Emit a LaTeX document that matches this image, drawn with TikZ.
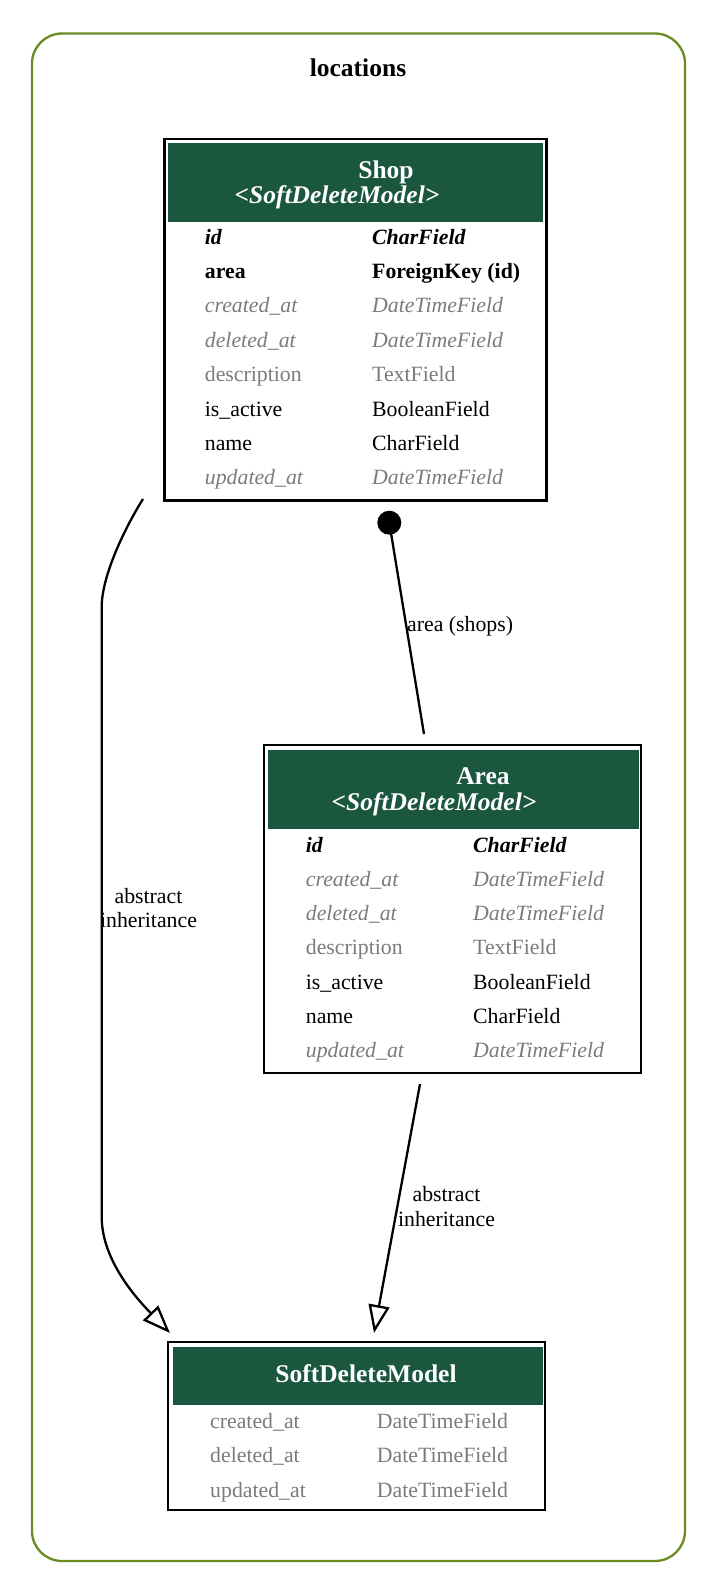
\documentclass[tikz,border=0pt]{standalone}
\usepackage{fontspec}
\setmainfont{Liberation Serif}
\usepackage{xcolor}
\usepackage{tikz}
\usetikzlibrary{arrows.meta}
\usetikzlibrary{positioning}
\definecolor{hdrgreen}{HTML}{1B563F}
\definecolor{inhgray}{HTML}{7B7B7B}
\definecolor{clustergreen}{HTML}{698B22}
\newcommand{\rowfont}{\fontsize{21.8}{24}\selectfont}
\newcommand{\hdrfont}{\fontsize{25.5}{30}\selectfont\bfseries}

\begin{document}
\begin{tikzpicture}[
  x=1pt, y=-1pt,
  dep/.style ={
    line width=2.3pt
  },
  inh/.style={
    dep,-{Triangle[open,length=28pt,width=21pt]}
  },
  tbl/.style 2 args={
    rectangle,
    draw=black,
    line width=2.4pt,
    minimum width=#1,
    minimum height=#2,
    inner sep=0pt},
  hdr/.style 2 args={
    rectangle,
    fill=hdrgreen,
    minimum width=#1,
    minimum height=#2,
    inner sep=0pt,
    anchor=north west},
  ttl/.style={
    text=white,
    font=\hdrfont,
    anchor=base,
    inner sep=0pt},
  row/.style={anchor=base west, inner sep=0pt, font=\rowfont},
  rowpk/.style={row, font=\rowfont\bfseries\itshape},
  rowfk/.style={row, font=\rowfont\bfseries},
  rowinh/.style={row, text=inhgray, font=\rowfont\itshape},
  rowgray/.style={row, text=inhgray},
  rowplain/.style={row},
  lbl/.style={font=\rowfont, align=center, inner sep=0pt},
  dot/.style={
    circle,
    fill=black,
    minimum size=24pt,
    inner sep=0pt},
]

  \def\rowh{34.4}%
  \def\colgap{167.3}%

  \useasboundingbox (0,0) rectangle (716,1576);

        \node[draw=clustergreen, line width=2.3pt, rounded corners=30pt,
            minimum width=653pt, minimum height=1527.5pt, inner sep=0pt] (locations)
            at (358.5, 797.25) {};
        \node[font=\hdrfont, anchor=base, inner sep=0pt] (locations_title)
            at (358, 77) {locations};


        \node[tbl={382pt}{361.5pt}] (shop) 
            at (355.5, 319.75) {};
        \node[hdr={375pt}{79pt}] (shop_hdr) 
            at (168, 143) {};
        \node[ttl] (shop_name) at (386, 178) {Shop};
        \node[ttl, font=\hdrfont\itshape] (shop_base) 
            at (337, 203) {<SoftDeleteModel>};

    \foreach \fname/\ftype/\fsty [count=\i from 0] in {
        id/CharField/rowpk,
        area/ForeignKey (id)/rowfk,
        created\_at/DateTimeField/rowinh,
        deleted\_at/DateTimeField/rowinh,
        description/TextField/rowgray,
        is\_active/BooleanField/rowplain,
        name/CharField/rowplain,
        updated\_at/DateTimeField/rowinh} {
        \node[\fsty] (shop_f\i) at (204.7, 244 + \i*\rowh) {\fname};
        \node[\fsty] (shop_t\i) at (204.7 + \colgap, 244 + \i*\rowh) {\ftype};
    }


        \node[tbl={377pt}{328pt}] (area) 
            at (452.5, 909) {};
        \node[hdr={371pt}{79pt}] (area_hdr) 
            at (268, 750) {};
        \node[ttl] (area_name) at (483, 784) {Area};
        \node[ttl, font=\hdrfont\itshape] (area_base) 
            at (434, 810) {<SoftDeleteModel>};

    \foreach \fname/\ftype/\fsty [count=\i from 0] in {
        id/CharField/rowpk,
        created\_at/DateTimeField/rowinh,
        deleted\_at/DateTimeField/rowinh,
        description/TextField/rowgray,
        is\_active/BooleanField/rowplain,
        name/CharField/rowplain,
        updated\_at/DateTimeField/rowinh} {
        \node[\fsty] (area_f\i) at (305.7, 852 + \i*34.3) {\fname};
        \node[\fsty] (area_t\i) at (305.7 + \colgap, 852 + \i*34.3) {\ftype};
    }


        \node[tbl={377pt}{168pt}] (sdm) 
            at (356.5, 1426) {};
        \node[hdr={370.5pt}{58pt}] (sdm_hdr) 
            at (172.5, 1347) {};
        \node[ttl] (sdm_name) at (366, 1382) {SoftDeleteModel};

    \foreach \fname [count=\i from 0] in {created\_at, deleted\_at, updated\_at} {
        \node[rowgray] (sdm_f\i) at (210, 1428 + \i*34.5) {\fname};
        \node[rowgray] (sdm_t\i) at (376.7, 1428 + \i*34.5) {DateTimeField};
    }


        \node[dot] (shop_dot) at (389.3, 522.7) {};
        \coordinate (area_in) at (424, 734);
        \draw[dep] (shop_dot.center) to (area_in);
        \node[lbl, anchor=base west] (area_lbl) 
            at (407, 631) {area (shops)};

        \coordinate (shop_out) at (143, 499);
        \coordinate (sdm_in_l) at (170, 1333);
        \draw[inh] (shop_out) .. controls (126, 526) and (101.7, 575) .. (101.7, 607)
            -- (101.7, 1217) .. controls (101.7, 1262) and (140, 1302) .. (sdm_in_l);
        \node[lbl] (shop_inh_lbl) 
            at (148.5, 908.5) {abstract\\inheritance};

        \coordinate (area_out) at (420, 1084);
        \coordinate (sdm_in_r) at (374, 1333);
        \draw[inh] (area_out) to (sdm_in_r);
        \node[lbl, font=\fontsize{21.8}{25}\selectfont] (area_inh_lbl) 
            at (446.5, 1207) {abstract\\inheritance};

\end{tikzpicture}
\end{document}
